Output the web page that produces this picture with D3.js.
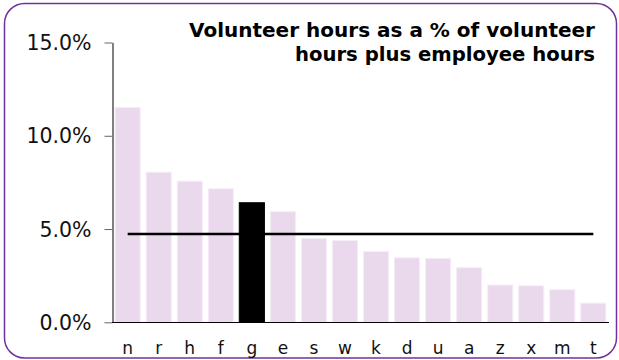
<!DOCTYPE html>
<html>
<head>
<meta charset="utf-8">
<script src="https://cdn.jsdelivr.net/npm/d3@7"></script>
<style>
  html, body { margin: 0; padding: 0; background: #fff; }
  svg { display: block; }
  text { font-family: Verdana, "DejaVu Sans", sans-serif; }
</style>
</head>
<body>
<script>
// Volunteer share of total hours, by organisation
const categories = ["n","r","h","f","g","e","s","w","k","d","u","a","z","x","m","t"];
const values = [11.52, 8.05, 7.57, 7.16, 6.41, 5.93, 4.50, 4.39, 3.80, 3.46, 3.43, 2.93, 2.00, 1.96, 1.75, 1.03];
const highlight = ["g"];
const average = [4.73];
const yTicks = [0, 5, 10, 15];
const titleLines = ["Volunteer hours as a % of volunteer", "hours plus employee hours"];
const titleWidths = [406, 300];

const W = 619, H = 360;
const svg = d3.select("body").append("svg").attr("width", W).attr("height", H);

// rounded frame
svg.append("rect")
  .attr("x", 4.5).attr("y", 3.5)
  .attr("width", 612).attr("height", 354.5)
  .attr("rx", 20).attr("ry", 20)
  .attr("fill", "#fff")
  .attr("stroke", "#7030a0")
  .attr("stroke-width", 1.5);

const x = d3.scaleBand().domain(categories).range([112, 609]).paddingInner(0.19).paddingOuter(0.1);
const y = d3.scaleLinear().domain([0, 15]).range([322.3, 42.5]);

// bars
svg.append("g").selectAll("rect").data(categories).join("rect")
  .attr("x", d => x(d))
  .attr("width", x.bandwidth())
  .attr("y", (d, i) => y(values[i]))
  .attr("height", (d, i) => y(0) - y(values[i]))
  .attr("fill", d => highlight.includes(d) ? "#000" : "#ead9ec")
  .attr("stroke", d => highlight.includes(d) ? "#000" : "#f6eef7")
  .attr("stroke-width", 1);

// y axis
const yAxis = svg.append("g")
  .attr("transform", `translate(${112.5},0)`)
  .call(d3.axisLeft(y).tickValues(yTicks).tickFormat(d => d.toFixed(1) + "%").tickSize(8).tickPadding(13).tickSizeOuter(0));
yAxis.select(".domain").attr("stroke", "#000");
yAxis.selectAll(".tick line").attr("stroke", "#666");
yAxis.selectAll(".tick text").attr("font-size", 20.5).attr("fill", "#111")
  .attr("dy", "0.34em")
  .attr("font-family", "Verdana, 'DejaVu Sans', sans-serif");

// x axis
const xAxis = svg.append("g")
  .attr("transform", `translate(0,${y(0) + 0.2})`)
  .call(d3.axisBottom(x).tickSize(0).tickPadding(19));
xAxis.select(".domain").attr("stroke", "#000").attr("d", `M112,0H609`);
xAxis.selectAll(".tick text").attr("font-size", 17).attr("fill", "#111")
  .attr("font-family", "Verdana, 'DejaVu Sans', sans-serif");

// average line across the bars
svg.append("line")
  .attr("x1", x(categories[0]) + x.bandwidth() / 2)
  .attr("x2", x(categories[categories.length - 1]) + x.bandwidth() / 2)
  .attr("y1", y(average[0])).attr("y2", y(average[0]))
  .attr("stroke", "#000").attr("stroke-width", 2.6);

// title, right aligned
const title = svg.append("text")
  .attr("text-anchor", "end")
  .attr("font-weight", "bold")
  .attr("font-size", 19)
  .attr("fill", "#000");
title.selectAll("tspan").data(titleLines).join("tspan")
  .attr("x", 595)
  .attr("y", (d, i) => 36.5 + i * 24)
  .attr("textLength", (d, i) => titleWidths[i])
  .attr("lengthAdjust", "spacingAndGlyphs")
  .text(d => d);
</script>
</body>
</html>
